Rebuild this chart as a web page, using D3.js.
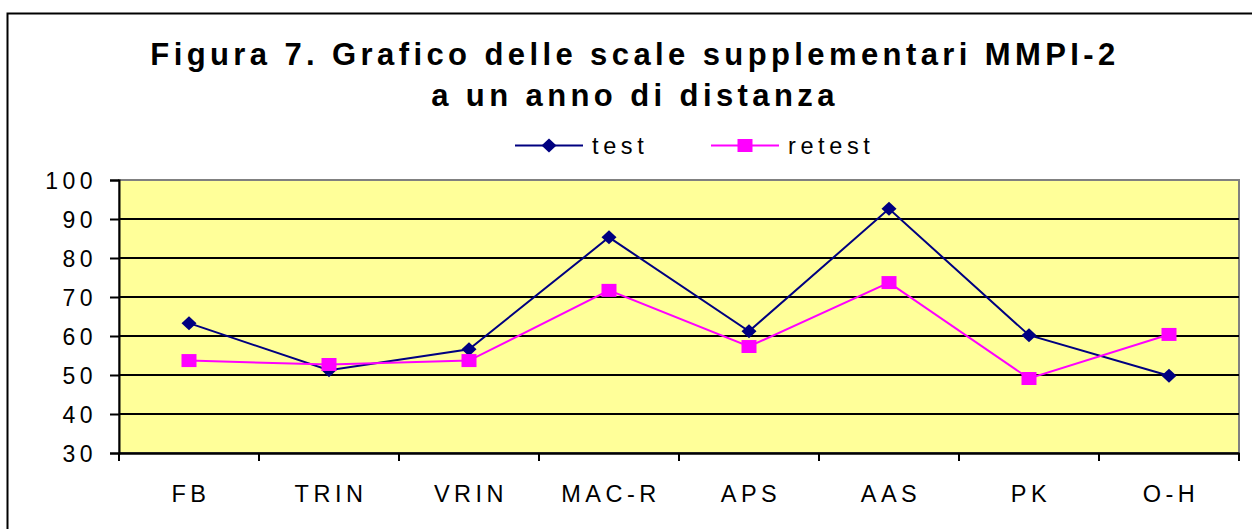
<!DOCTYPE html>
<html>
<head>
<meta charset="utf-8">
<script src="https://cdn.jsdelivr.net/npm/d3@7"></script>
<style>
  html, body { margin: 0; padding: 0; background: #fff; }
  svg { display: block; font-family: "Liberation Sans", Arial, sans-serif; }
</style>
</head>
<body>
<svg width="1252" height="529"></svg>
<script>
const WIDTH = 1252;
const HEIGHT = 529;

const categories = ['FB', 'TRIN', 'VRIN', 'MAC-R', 'APS', 'AAS', 'PK', 'O-H'];
const testValues = [63.3, 51.2, 56.6, 85.3, 61.2, 92.6, 60.2, 49.8];
const retestValues = [53.7, 52.7, 53.7, 71.7, 57.3, 73.7, 49.1, 60.4];
const yTicks = [30, 40, 50, 60, 70, 80, 90, 100];
const titleLines = ['Figura 7. Grafico delle scale supplementari MMPI-2', 'a un anno di distanza'];

// excel-like marker shapes
const diamond = 'M0,-7L7.5,0L0,7L-7.5,0Z';
const square = 'M-7.5,-6.5H7.5V6.5H-7.5Z';

const series = [
  { name: 'test', values: testValues, color: '#000080', marker: diamond },
  { name: 'retest', values: retestValues, color: '#ff00ff', marker: square },
];

const plot = { left: 119, right: 1239, top: 180, bottom: 453 };

const xScale = d3.scaleBand()
  .domain(categories)
  .range([plot.left, plot.right]);
const yScale = d3.scaleLinear()
  .domain([30, 100])
  .range([plot.bottom, plot.top]);

const svg = d3.select('svg');

// outer frame
svg.append('rect')
  .attr('x', 7.5).attr('y', 13.5)
  .attr('width', 1260).attr('height', 540)
  .attr('fill', 'none')
  .attr('stroke', '#000')
  .attr('stroke-width', 2);

// title
svg.append('text')
  .attr('text-anchor', 'middle')
  .attr('font-size', 31)
  .attr('font-weight', 'bold')
  .attr('letter-spacing', 4.4)
  .selectAll('tspan')
  .data(titleLines)
  .enter()
  .append('tspan')
  .attr('x', 635)
  .attr('y', (d, i) => 65 + i * 41)
  .text(d => d);

// plot area
svg.append('rect')
  .attr('x', plot.left).attr('y', plot.top)
  .attr('width', plot.right - plot.left)
  .attr('height', plot.bottom - plot.top)
  .attr('fill', '#ffff99')
  .attr('stroke', '#808080')
  .attr('stroke-width', 2);

// gridlines
svg.append('g')
  .selectAll('line')
  .data(yTicks.filter(t => t > 30 && t < 100))
  .enter()
  .append('line')
  .attr('x1', plot.left).attr('x2', plot.right)
  .attr('y1', d => yScale(d)).attr('y2', d => yScale(d))
  .attr('stroke', '#000')
  .attr('stroke-width', 2);

// y axis
const leftAxis = d3.axisLeft(yScale)
  .tickValues(yTicks)
  .tickSize(9)
  .tickPadding(13);
const gy = svg.append('g')
  .attr('transform', `translate(${plot.left}, 0)`)
  .call(leftAxis);
gy.select('.domain').attr('stroke-width', 2);
gy.selectAll('.tick line').attr('stroke-width', 2);
gy.selectAll('.tick text')
  .attr('font-size', 23)
  .attr('letter-spacing', 4.5)
  .attr('dy', '0.36em')
  .attr('fill', '#000')
  .attr('font-family', '"Liberation Sans", Arial, sans-serif');

// x axis
const bottomAxis = d3.axisBottom(xScale)
  .tickSize(0)
  .tickPadding(32);
const gx = svg.append('g')
  .attr('transform', `translate(0, ${plot.bottom})`)
  .call(bottomAxis);
gx.select('.domain').attr('stroke-width', 2.5);
gx.selectAll('.tick text')
  .attr('font-size', 23.5)
  .attr('letter-spacing', 4.5)
  .attr('dx', 2)
  .attr('fill', '#000')
  .attr('font-family', '"Liberation Sans", Arial, sans-serif');
// boundary tick marks between categories
gx.append('g')
  .selectAll('line')
  .data(categories.map(c => xScale(c)).concat([xScale.range()[1]]))
  .enter()
  .append('line')
  .attr('x1', d => d).attr('x2', d => d)
  .attr('y1', 0).attr('y2', 8)
  .attr('stroke', '#000')
  .attr('stroke-width', 2);

const cx = c => xScale(c) + xScale.bandwidth() / 2;
const line = d3.line()
  .x((d, i) => cx(categories[i]))
  .y(d => yScale(d));

series.forEach(s => {
  svg.append('path')
    .datum(s.values)
    .attr('d', line)
    .attr('fill', 'none')
    .attr('stroke', s.color)
    .attr('stroke-width', 2);
  svg.append('g')
    .selectAll('path')
    .data(s.values)
    .enter()
    .append('path')
    .attr('d', s.marker)
    .attr('transform', (d, i) => `translate(${cx(categories[i])}, ${yScale(d)})`)
    .attr('fill', s.color);
});

// legend
const legendItems = [
  { x: 515, textX: 592 },
  { x: 711, textX: 788 },
];
const legendY = 145.5;
series.forEach((s, i) => {
  const g = svg.append('g');
  g.append('line')
    .attr('x1', legendItems[i].x).attr('x2', legendItems[i].x + 68)
    .attr('y1', legendY).attr('y2', legendY)
    .attr('stroke', s.color)
    .attr('stroke-width', 2);
  g.append('path')
    .attr('d', s.marker)
    .attr('transform', `translate(${legendItems[i].x + 34}, ${legendY})`)
    .attr('fill', s.color);
  g.append('text')
    .attr('x', legendItems[i].textX)
    .attr('y', 154)
    .attr('font-size', 23.5)
    .attr('letter-spacing', 4.6)
    .text(s.name);
});
</script>
</body>
</html>
